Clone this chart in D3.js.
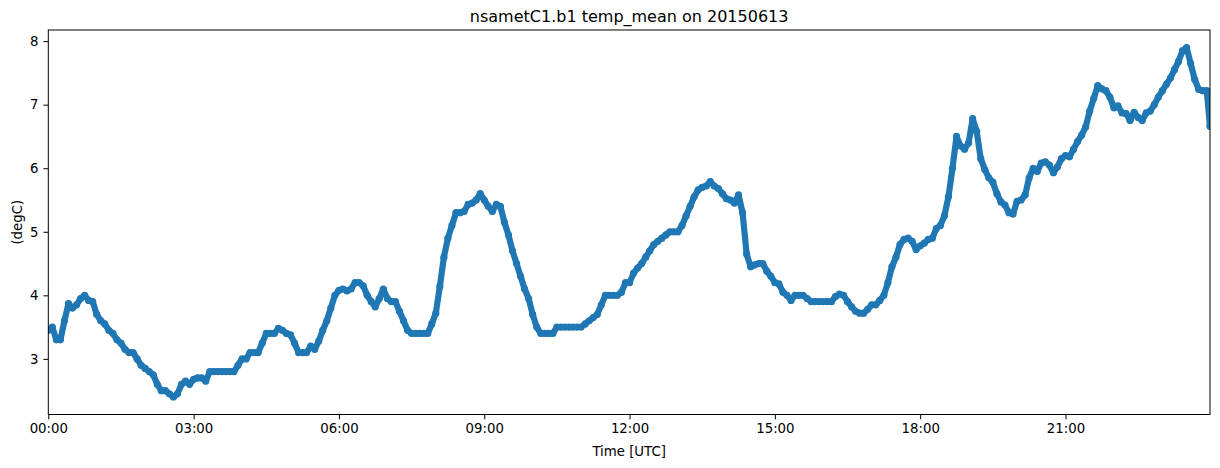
<!DOCTYPE html>
<html>
<head>
<meta charset="utf-8">
<script src="https://cdn.jsdelivr.net/npm/d3@7"></script>
<style>
    body { margin: 0; background: #fff; }
    svg { font-family: "DejaVu Sans", sans-serif; }
</style>
</head>
<body>
<div id="chart"></div>
<script>
// Chart data (5 minute readings)
const chartTitle = 'nsametC1.b1 temp_mean on 20150613';
const day = '2015-06-13';
const stepMinutes = 5;
const xTickLabels = ['00:00', '03:00', '06:00', '09:00', '12:00', '15:00', '18:00', '21:00'];
const yTicks = [3, 4, 5, 6, 7, 8];

const tempMean = [
    3.45, 3.5, 3.3, 3.3, 3.6, 3.87, 3.8, 3.85, 3.95, 4.0, 3.92, 3.9,
    3.7, 3.6, 3.55, 3.45, 3.4, 3.3, 3.25, 3.15, 3.1, 3.1, 3.0, 2.9,
    2.85, 2.8, 2.75, 2.6, 2.5, 2.5, 2.45, 2.4, 2.45, 2.6, 2.65, 2.6,
    2.68, 2.7, 2.7, 2.65, 2.8, 2.8, 2.8, 2.8, 2.8, 2.8, 2.8, 2.9,
    3.0, 3.0, 3.1, 3.1, 3.1, 3.25, 3.4, 3.4, 3.4, 3.48, 3.45, 3.4,
    3.38, 3.25, 3.1, 3.1, 3.1, 3.2, 3.15, 3.28, 3.45, 3.6, 3.8, 4.0,
    4.08, 4.1, 4.07, 4.1, 4.2, 4.2, 4.15, 4.0, 3.9, 3.82, 3.95, 4.1,
    3.95, 3.9, 3.9, 3.75, 3.6, 3.45, 3.4, 3.4, 3.4, 3.4, 3.4, 3.55,
    3.72, 4.14, 4.6, 4.9, 5.1, 5.3, 5.3, 5.32, 5.43, 5.45, 5.5, 5.6,
    5.5, 5.4, 5.32, 5.43, 5.4, 5.15, 4.95, 4.7, 4.5, 4.3, 4.1, 3.95,
    3.7, 3.5, 3.4, 3.4, 3.4, 3.4, 3.5, 3.5, 3.5, 3.5, 3.5, 3.5,
    3.5, 3.55, 3.6, 3.65, 3.7, 3.85, 4.0, 4.0, 4.0, 4.0, 4.05, 4.2,
    4.2, 4.35, 4.43, 4.5, 4.6, 4.7, 4.8, 4.85, 4.9, 4.95, 5.0, 5.0,
    5.0, 5.1, 5.25, 5.4, 5.55, 5.66, 5.7, 5.72, 5.79, 5.72, 5.68, 5.6,
    5.52, 5.5, 5.45, 5.58, 5.3, 4.65, 4.45, 4.48, 4.5, 4.5, 4.38, 4.3,
    4.2, 4.18, 4.05, 4.0, 3.92, 4.0, 4.0, 4.0, 3.95, 3.9, 3.9, 3.9,
    3.9, 3.9, 3.9, 3.98, 4.02, 4.0, 3.9, 3.82, 3.75, 3.72, 3.72, 3.78,
    3.85, 3.85, 3.92, 4.0, 4.2, 4.45, 4.6, 4.8, 4.88, 4.9, 4.85, 4.72,
    4.78, 4.82, 4.88, 4.9, 5.05, 5.1, 5.25, 5.55, 6.0, 6.5, 6.35, 6.3,
    6.4, 6.78, 6.58, 6.15, 5.98, 5.85, 5.78, 5.6, 5.47, 5.42, 5.3, 5.28,
    5.48, 5.5, 5.58, 5.85, 6.0, 5.95, 6.08, 6.1, 6.05, 5.93, 6.02, 6.15,
    6.2, 6.18, 6.3, 6.42, 6.52, 6.65, 6.9, 7.1, 7.3, 7.25, 7.22, 7.12,
    6.95, 6.98, 6.87, 6.86, 6.75, 6.88, 6.8, 6.75, 6.87, 6.9, 7.0, 7.12,
    7.22, 7.32, 7.42, 7.55, 7.68, 7.85, 7.9, 7.65, 7.4, 7.24, 7.22, 7.22,
    6.66
];

function renderChart() {
    const width = 1220;
    const height = 468;
    const plot = { left: 48.3, top: 30, right: 1210, bottom: 414.5 };
    const color = '#1f77b4';

    const dayStart = new Date(`${day}T00:00:00Z`);
    const dayEnd = new Date(`${day}T23:59:00Z`);
    // the last reading is the 23:59 one
    const points = tempMean.map((v, i) => ({
        t: new Date(Math.min(+dayStart + i * stepMinutes * 60000, +dayEnd)),
        v: v
    }));

    const x = d3.scaleUtc()
        .domain([dayStart, dayEnd])
        .range([plot.left, plot.right]);

    const yExtent = d3.extent(tempMean);
    const pad = (yExtent[1] - yExtent[0]) * 0.05;
    const y = d3.scaleLinear()
        .domain([yExtent[0] - pad, yExtent[1] + pad])
        .range([plot.bottom, plot.top]);

    const svg = d3.select('#chart')
        .append('svg')
        .attr('width', width)
        .attr('height', height);

    svg.append('defs').append('clipPath')
        .attr('id', 'plot-clip')
        .append('rect')
        .attr('x', plot.left)
        .attr('y', plot.top)
        .attr('width', plot.right - plot.left)
        .attr('height', plot.bottom - plot.top);

    // Series: dense dots read as a thick band, so the joining line is wide
    const g = svg.append('g').attr('clip-path', 'url(#plot-clip)');
    const line = d3.line()
        .x(d => x(d.t))
        .y(d => y(d.v));

    g.append('path')
        .datum(points)
        .attr('d', line)
        .attr('fill', 'none')
        .attr('stroke', color)
        .attr('stroke-width', 6.2)
        .attr('stroke-linejoin', 'round')
        .attr('stroke-linecap', 'round');

    g.append('g')
        .selectAll('circle')
        .data(points)
        .join('circle')
        .attr('cx', d => x(d.t))
        .attr('cy', d => y(d.v))
        .attr('r', 3.6)
        .attr('fill', color);

    // Axes
    const xTickDates = xTickLabels.map(l => new Date(`${day}T${l}:00Z`));
    const xAxis = svg.append('g')
        .attr('transform', `translate(0,${plot.bottom})`)
        .call(d3.axisBottom(x)
            .tickValues(xTickDates)
            .tickFormat((d, i) => xTickLabels[i])
            .tickSize(4.9)
            .tickPadding(4.5));

    const yAxis = svg.append('g')
        .attr('transform', `translate(${plot.left},0)`)
        .call(d3.axisLeft(y)
            .tickValues(yTicks)
            .tickFormat(d3.format('d'))
            .tickSize(4.9)
            .tickPadding(4.9));

    [xAxis, yAxis].forEach(a => {
        a.select('.domain').remove();
        a.selectAll('.tick line').attr('stroke', '#000').attr('stroke-width', 1);
        a.selectAll('.tick text')
            .attr('fill', '#000')
            .attr('font-size', '13.3px')
            .attr('font-family', '"DejaVu Sans", sans-serif');
    });

    // Frame
    svg.append('rect')
        .attr('x', plot.left)
        .attr('y', plot.top)
        .attr('width', plot.right - plot.left)
        .attr('height', plot.bottom - plot.top)
        .attr('fill', 'none')
        .attr('stroke', '#000')
        .attr('stroke-width', 1);

    // Labels
    const cx = (plot.left + plot.right) / 2;
    svg.append('text')
        .attr('x', cx)
        .attr('y', 21.5)
        .attr('text-anchor', 'middle')
        .attr('font-size', '16px')
        .text(chartTitle);

    svg.append('text')
        .attr('x', cx)
        .attr('y', 456)
        .attr('text-anchor', 'middle')
        .attr('font-size', '13.3px')
        .text('Time [UTC]');

    svg.append('text')
        .attr('transform', `translate(22,${(plot.top + plot.bottom) / 2}) rotate(-90)`)
        .attr('text-anchor', 'middle')
        .attr('font-size', '13.3px')
        .text('(degC)');
}

renderChart();
</script>
</body>
</html>
